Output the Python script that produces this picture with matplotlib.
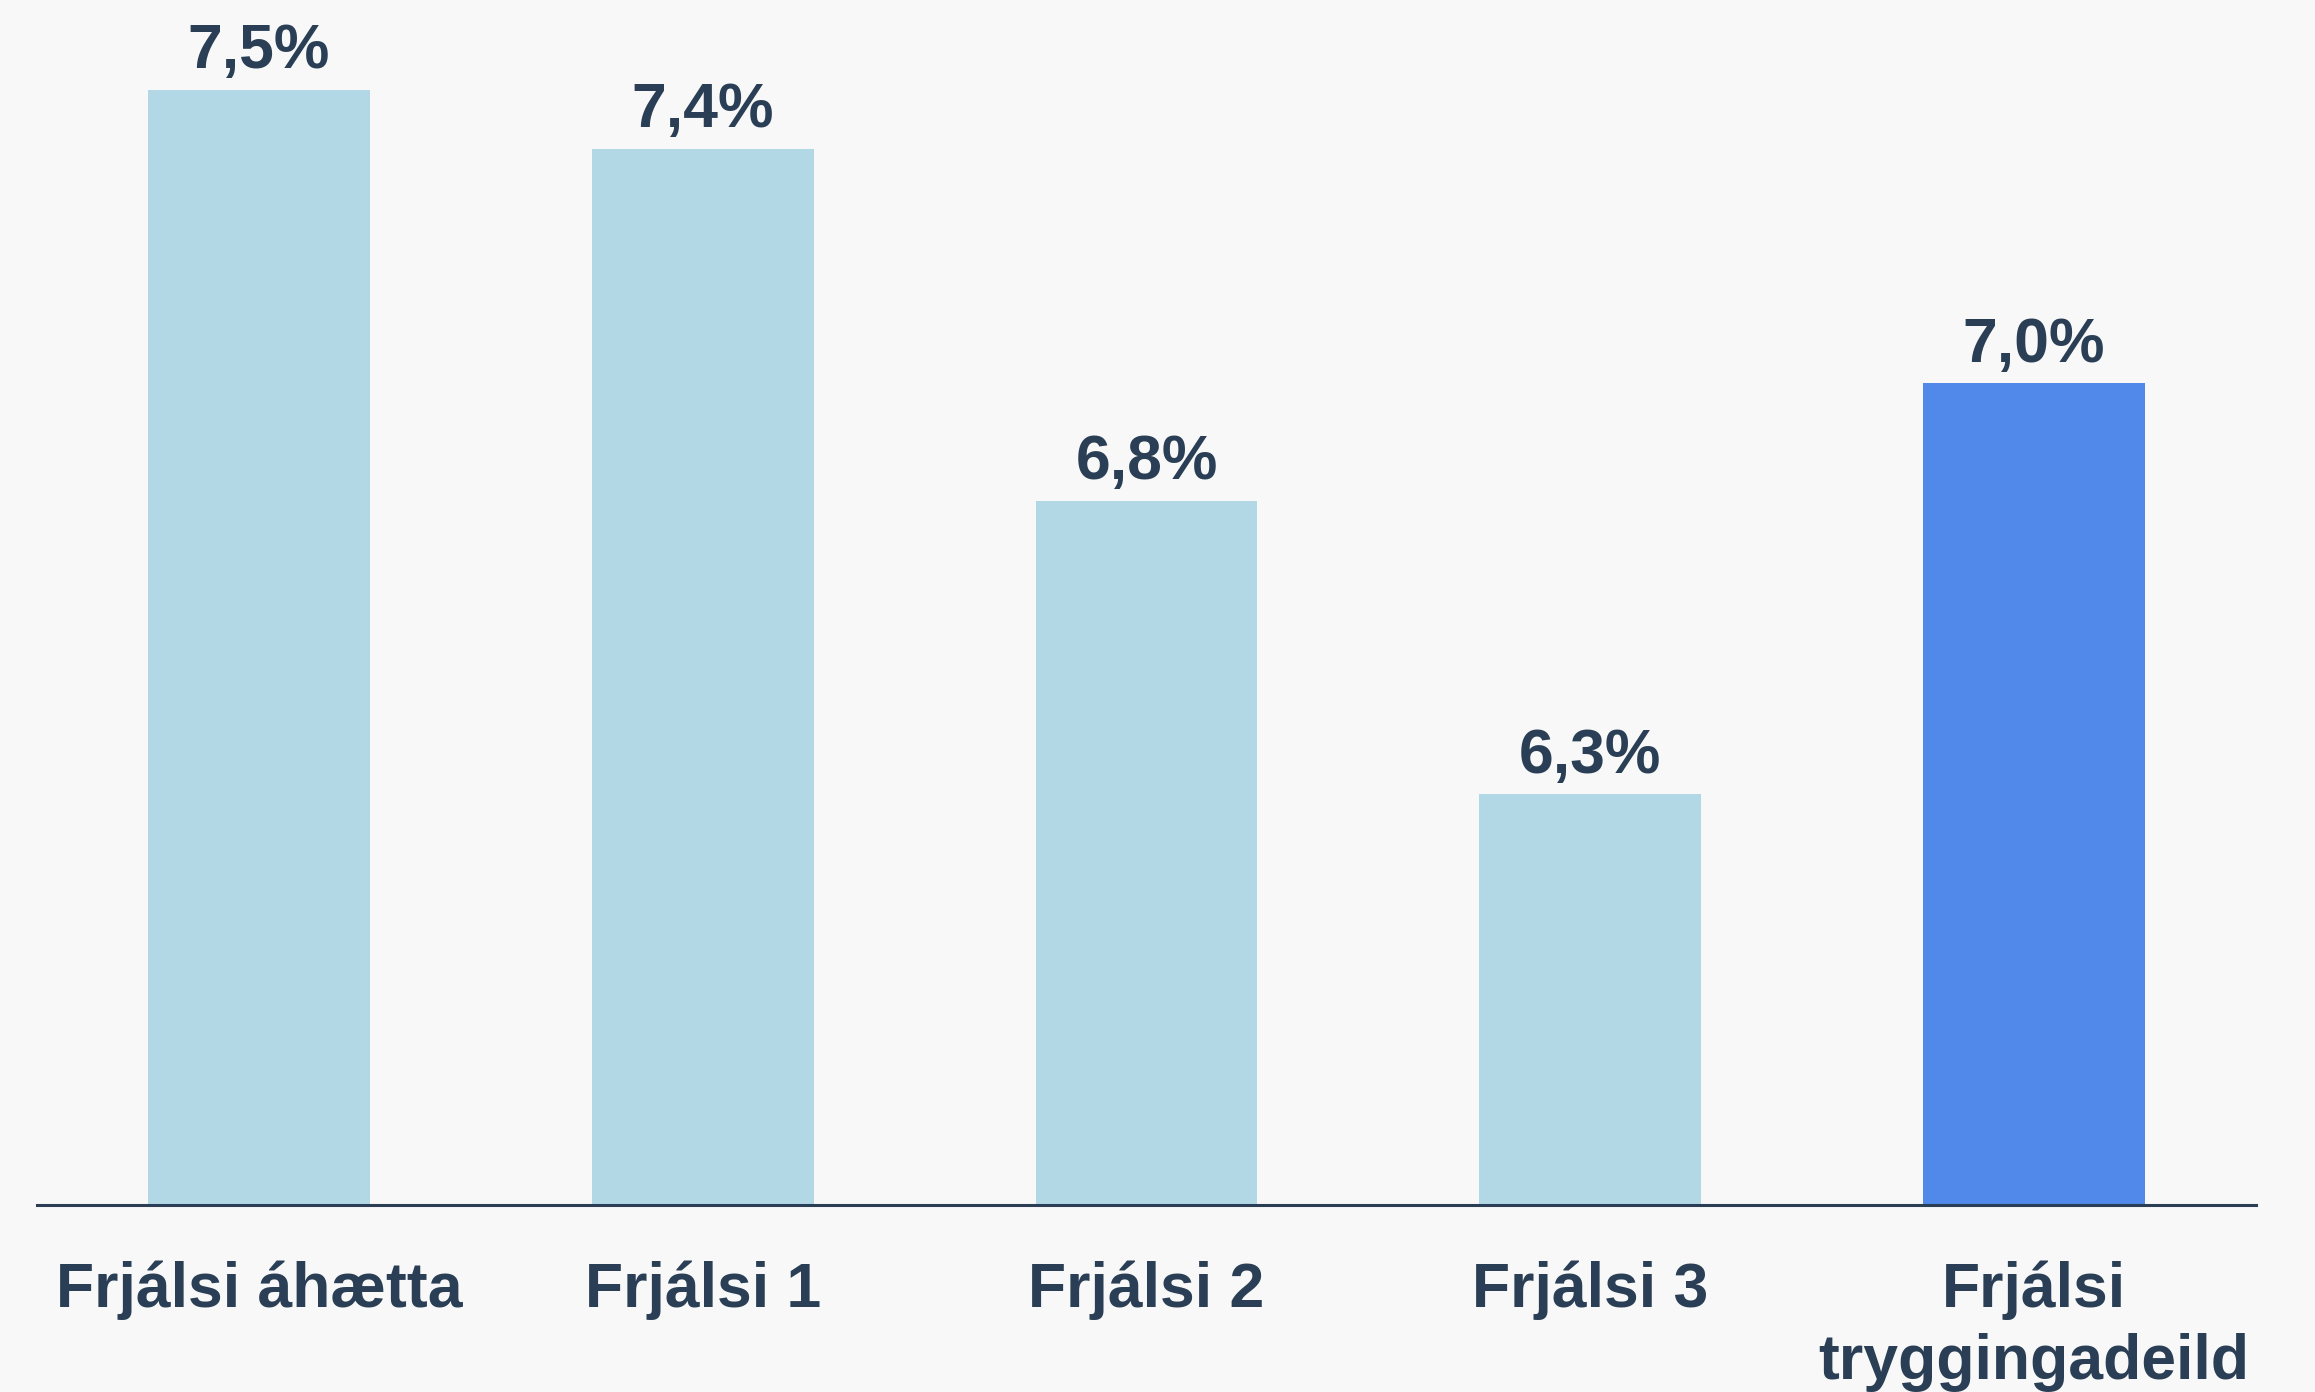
import matplotlib
matplotlib.use("Agg")
from matplotlib import pyplot as plt

categories = ["Frjálsi áhætta", "Frjálsi 1", "Frjálsi 2", "Frjálsi 3", "Frjálsi\ntryggingadeild"]
values = [7.5, 7.4, 6.8, 6.3, 7.0]
labels = ["7,5%", "7,4%", "6,8%", "6,3%", "7,0%"]
highlight = [False, False, False, False, True]

bg = "#f8f8f8"
text_col = "#2a3f55"
light = "#b2d7e5"
strong = "#5089ea"

plt.rcParams["font.family"] = ["Liberation Sans", "DejaVu Sans"]

fig = plt.figure(figsize=(23.15, 13.92), dpi=100, facecolor=bg)
ax = fig.add_axes([0.016, 0.1343, 0.9585, 0.8657], facecolor=bg)

x = list(range(len(categories)))
colors = [strong if h else light for h in highlight]
bars = ax.bar(x, values, width=0.5, color=colors, zorder=2)

for b, lab in zip(bars, labels):
    ax.annotate(lab, (b.get_x() + b.get_width() / 2, b.get_height()),
                xytext=(0, 6), textcoords="offset points",
                ha="center", va="bottom", fontsize=45, fontweight="bold", color=text_col)

ax.set_xlim(-0.5, 4.5)
ax.set_ylim(5.6, 7.653)
ax.set_xticks(x)
ax.set_xticklabels(categories, fontsize=45, fontweight="bold", color=text_col, linespacing=1.28)
ax.tick_params(axis="x", length=0, pad=40)
ax.set_yticks([])

for s in ["top", "right", "left"]:
    ax.spines[s].set_visible(False)
ax.spines["bottom"].set_color(text_col)
ax.spines["bottom"].set_linewidth(2.2)
ax.spines["bottom"].set_zorder(3)

fig.savefig("out.png", dpi=100, facecolor=bg)
